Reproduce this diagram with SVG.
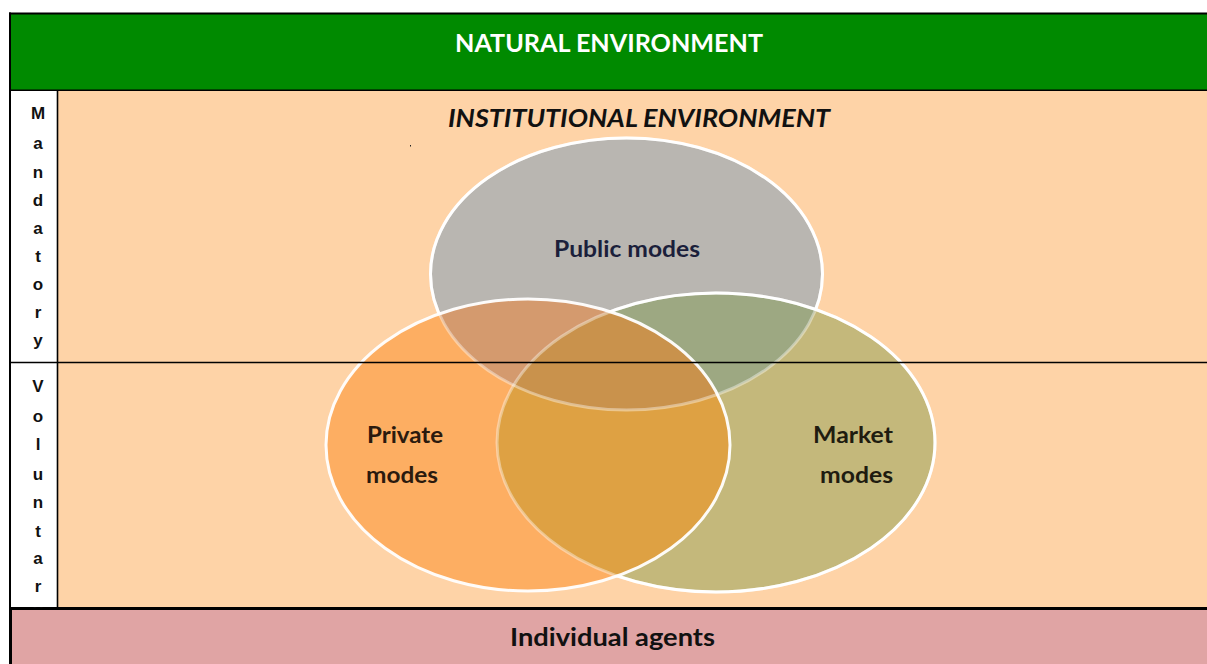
<svg xmlns="http://www.w3.org/2000/svg" xmlns:xlink="http://www.w3.org/1999/xlink" width="1207" height="664" viewBox="0 0 1207 664">
<style>
.title{font-family:Lato,"Open Sans","Liberation Sans",sans-serif;font-weight:bold;}
.side{font-family:"Liberation Sans",Arial,sans-serif;font-weight:bold;font-size:17px;fill:#111;text-anchor:middle;}
.lbl{font-family:Lato,"Open Sans","Liberation Sans",sans-serif;font-weight:bold;font-size:22px;}
.rule{stroke:#000;fill:none;}
</style>
<defs>
<ellipse id="eP" cx="626.5" cy="274" rx="196" ry="136"/>
<ellipse id="eR" cx="528" cy="445" rx="202" ry="146"/>
<ellipse id="eM" cx="716" cy="442.5" rx="219" ry="149.5"/>
<clipPath id="cR"><use xlink:href="#eR"/></clipPath>
<clipPath id="cM"><use xlink:href="#eM"/></clipPath>
<clipPath id="cCol"><rect x="11" y="91" width="46" height="516.5"/></clipPath>
<mask id="mOutMR" maskUnits="userSpaceOnUse" x="0" y="0" width="1207" height="664">
<rect x="0" y="0" width="1207" height="664" fill="#fff"/>
<use xlink:href="#eM" fill="#000"/>
<use xlink:href="#eR" fill="#000"/>
</mask>
<mask id="mOutR" maskUnits="userSpaceOnUse" x="0" y="0" width="1207" height="664">
<rect x="0" y="0" width="1207" height="664" fill="#fff"/>
<use xlink:href="#eR" fill="#000"/>
</mask>
</defs>
<rect width="1207" height="664" fill="#fff"/>

<g id="natural-environment">
<rect x="10" y="14" width="1197" height="76" fill="#008a00"/>
<text class="title" x="455" y="52" font-size="25" fill="#fff" textLength="308" lengthAdjust="spacingAndGlyphs">NATURAL ENVIRONMENT</text>
</g>

<g id="institutional-environment">
<rect x="58" y="91" width="1149" height="517" fill="#fed3a7"/>
<text class="title" x="448" y="127" font-size="24" font-style="italic" fill="#111" textLength="382" lengthAdjust="spacingAndGlyphs">INSTITUTIONAL ENVIRONMENT</text>
<rect x="410" y="145" width="1" height="1.5" fill="#222"/>
</g>

<g id="side-column">
<rect x="11" y="91" width="46" height="517" fill="#fff"/>
</g>

<g id="public-modes">
<use xlink:href="#eP" fill="#b9b6b1"/>
</g>
<g id="market-modes">
<use xlink:href="#eM" fill="#c4b87b"/>
</g>
<g id="private-modes">
<use xlink:href="#eR" fill="#fdae62"/>
</g>
<g id="overlaps">
<use xlink:href="#eP" fill="#d49a6e" clip-path="url(#cR)"/>
<use xlink:href="#eP" fill="#9da882" clip-path="url(#cM)"/>
<use xlink:href="#eR" fill="#dea143" clip-path="url(#cM)"/>
<g clip-path="url(#cM)"><use xlink:href="#eP" fill="#c9924c" clip-path="url(#cR)"/></g>
</g>
<g id="outlines" fill="none" stroke="#fff" stroke-width="3">
<use xlink:href="#eP" stroke-opacity="0.4"/>
<use xlink:href="#eP" mask="url(#mOutMR)"/>
<use xlink:href="#eM" stroke-opacity="0.4"/>
<use xlink:href="#eM" mask="url(#mOutR)"/>
<use xlink:href="#eR" stroke-opacity="0.95"/>
</g>

<g id="individual-agents">
<rect x="11" y="610" width="1196" height="54" fill="#e0a4a4"/>
<text class="title" x="510" y="646" font-size="25" fill="#111" textLength="205" lengthAdjust="spacingAndGlyphs">Individual agents</text>
</g>

<g id="frame">
<line class="rule" x1="9" y1="13.5" x2="1207" y2="13.5" stroke-width="2"/>
<line class="rule" x1="10" y1="12.5" x2="10" y2="608" stroke-width="2"/>
<line class="rule" x1="10.5" y1="607" x2="10.5" y2="664" stroke-width="3"/>
<line class="rule" x1="10" y1="90.3" x2="1207" y2="90.3" stroke-width="1.6"/>
<line class="rule" x1="57.5" y1="90" x2="57.5" y2="608" stroke-width="1.6"/>
<line class="rule" x1="10" y1="362.5" x2="1207" y2="362.5" stroke-width="1.6"/>
<line class="rule" x1="9" y1="608.5" x2="1207" y2="608.5" stroke-width="3"/>
</g>

<g id="mandatory">
<text class="side" x="38" y="119">M</text>
<text class="side" x="38" y="149">a</text>
<text class="side" x="38" y="178">n</text>
<text class="side" x="38" y="206">d</text>
<text class="side" x="38" y="234">a</text>
<text class="side" x="38" y="262">t</text>
<text class="side" x="38" y="290">o</text>
<text class="side" x="38" y="318">r</text>
<text class="side" x="38" y="346">y</text>
</g>

<g id="voluntary" clip-path="url(#cCol)">
<text class="side" x="38" y="392">V</text>
<text class="side" x="38" y="422">o</text>
<text class="side" x="38" y="450">l</text>
<text class="side" x="38" y="480">u</text>
<text class="side" x="38" y="508">n</text>
<text class="side" x="38" y="537">t</text>
<text class="side" x="38" y="564">a</text>
<text class="side" x="38" y="592">r</text>
<text class="side" x="38" y="616">y</text>
</g>

<g id="labels">
<text class="lbl" x="554" y="257" fill="#1b1f3b" textLength="146" lengthAdjust="spacingAndGlyphs">Public modes</text>
<text class="lbl" x="367" y="443" fill="#2b1a0e" textLength="76" lengthAdjust="spacingAndGlyphs">Private</text>
<text class="lbl" x="366" y="483" fill="#2b1a0e" textLength="72" lengthAdjust="spacingAndGlyphs">modes</text>
<text class="lbl" x="813" y="443" fill="#1f1c10" textLength="80" lengthAdjust="spacingAndGlyphs">Market</text>
<text class="lbl" x="820" y="483" fill="#1f1c10" textLength="73" lengthAdjust="spacingAndGlyphs">modes</text>
</g>

<g id="connectors"/>
</svg>
